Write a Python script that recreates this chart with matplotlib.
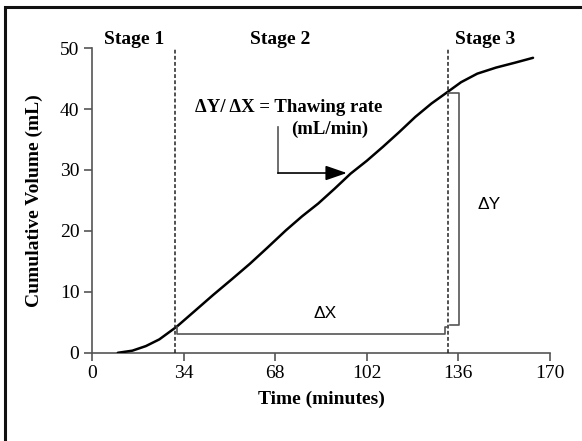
import numpy as np
import matplotlib
matplotlib.use('Agg')
import matplotlib.pyplot as plt
from matplotlib.patches import Rectangle

# values
time_min = [9.6, 15, 20, 25, 31.5, 38, 45, 52, 58.6, 65, 72, 78, 84, 90, 96, 102,
            108, 114, 120, 126, 132, 137, 143, 150, 157, 163.7]
volume_ml = [0.0, 0.35, 1.1, 2.2, 4.3, 6.8, 9.5, 12.1, 14.6, 17.2, 20.1, 22.4, 24.5, 26.9,
             29.4, 31.5, 33.8, 36.2, 38.7, 40.9, 42.8, 44.4, 45.8, 46.8, 47.6, 48.4]
stage_bounds = [31, 132]
stage_labels = ['Stage 1', 'Stage 2', 'Stage 3']
stage_label_x = [15.5, 70, 146]
x_ticks = [0, 34, 68, 102, 136, 170]
y_ticks = [0, 10, 20, 30, 40, 50]
dx_bracket_x = [31.6, 31.6, 131, 131, 132.3]
dx_bracket_y = [4.3, 3.1, 3.1, 4.2, 4.2]
dy_bracket_x = [132.3, 136.3, 136.3, 133]
dy_bracket_y = [42.7, 42.7, 4.5, 4.5]
arrow_x = [69, 69]
arrow_y = [37.0, 29.5]
arrow_tip = (94.6, 29.5)

serif = ['Liberation Serif', 'DejaVu Serif']
plt.rcParams['font.family'] = serif

fig = plt.figure(figsize=(5.82, 4.41), dpi=100)
ax = fig.add_axes([0.158, 0.200, 0.787, 0.691])

ax.plot(time_min, volume_ml, color='black', lw=1.8, solid_capstyle='round', solid_joinstyle='round')

for b in stage_bounds:
    ax.plot([b, b], [0, 50], color='#222222', lw=1.1, ls=(0, (2.5, 1.5)))

gray = '#555555'
ax.plot(dx_bracket_x, dx_bracket_y, color=gray, lw=1.2)
ax.plot(dy_bracket_x, dy_bracket_y, color=gray, lw=1.2)

ax.plot(arrow_x, arrow_y, color=gray, lw=1.2)
ax.annotate('', xy=arrow_tip, xytext=(arrow_x[1], arrow_y[1]),
            arrowprops=dict(arrowstyle='-|>,head_length=1.3,head_width=0.45',
                            color='black', lw=1.2, shrinkA=0, shrinkB=0))

for x, s in zip(stage_label_x, stage_labels):
    ax.text(x, 51.4, s, ha='center', va='center', fontsize=14, fontweight='bold', clip_on=False)

ax.text(73, 40.3, 'ΔY/ ΔX = Thawing rate', ha='center', va='center', fontsize=13.5, fontweight='bold')
ax.text(88.2, 36.6, '(mL/min)', ha='center', va='center', fontsize=13.5, fontweight='bold')
ax.text(86.5, 6.4, 'ΔX', ha='center', va='center', fontsize=12.5, family=['Liberation Sans', 'DejaVu Sans'])
ax.text(147.4, 24.3, 'ΔY', ha='center', va='center', fontsize=12.5, family=['Liberation Sans', 'DejaVu Sans'])

ax.set_xlim(0, 170)
ax.set_ylim(0, 50)
ax.set_xticks(x_ticks)
ax.set_yticks(y_ticks)
ax.tick_params(direction='out', length=6, width=1.2, color=gray, labelsize=14, pad=3)
for side in ['top', 'right']:
    ax.spines[side].set_visible(False)
for side in ['left', 'bottom']:
    ax.spines[side].set_color(gray)
    ax.spines[side].set_linewidth(1.2)
ax.spines['bottom'].set_zorder(0)

ax.set_xlabel('Time (minutes)', fontsize=14, fontweight='bold', labelpad=6)
ax.set_ylabel('Cumulative Volume (mL)', fontsize=14, fontweight='bold', labelpad=12)

# frame round the whole figure (only top and left edges fall inside the picture)
fig.patches.append(Rectangle((5 / 582, -0.1), 1.2, 1.1 - 7 / 441,
                             transform=fig.transFigure, fill=False, ec='#111111', lw=2.2))

fig.savefig('out.png', dpi=100)
